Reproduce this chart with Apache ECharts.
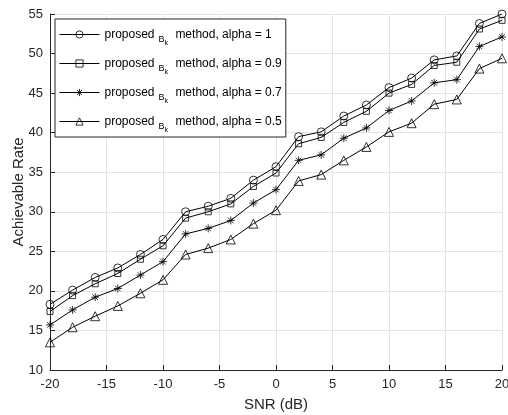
<!DOCTYPE html>
<html><head><meta charset="utf-8">
<script src="https://cdn.jsdelivr.net/npm/echarts@6/dist/echarts.min.js"></script>
<style>html,body{margin:0;padding:0;background:#fff}#c{width:508px;height:415px}</style>
</head><body><div id="c"></div>
<script>
var snr = [-20,-18,-16,-14,-12,-10,-8,-6,-4,-2,0,2,4,6,8,10,12,14,16,18,20];
var alpha1  = [18.3,20.1,21.7,22.9,24.6,26.5,30.0,30.7,31.7,34.0,35.7,39.5,40.1,42.1,43.5,45.7,46.9,49.2,49.7,53.8,55.0];
var alpha09 = [17.4,19.4,20.9,22.2,24.0,25.7,29.2,30.0,31.0,33.2,34.9,38.6,39.4,41.3,42.7,45.0,46.1,48.5,48.9,53.1,54.2];
var alpha07 = [15.7,17.6,19.2,20.3,22.0,23.7,27.2,27.9,28.9,31.1,32.8,36.5,37.2,39.3,40.6,42.8,44.0,46.3,46.7,50.9,52.1];
var alpha05 = [13.5,15.4,16.8,18.1,19.7,21.4,24.6,25.4,26.5,28.5,30.2,33.9,34.7,36.5,38.2,40.1,41.2,43.6,44.2,48.1,49.4];
var alphaLabels = ['1','0.9','0.7','0.5'];
var xTicks = {min:-20, max:20, step:5};
var yTicks = {min:10, max:55, step:5};

var FONT = '"Liberation Sans", Arial, sans-serif';
var TXT = '#262626';
var star = 'path://M5 0 L5 10 M0 5 L10 5 M1.5 1.5 L8.5 8.5 M8.5 1.5 L1.5 8.5';

function pairs(v){ return snr.map(function(x,i){ return [x, v[i]]; }); }
function mk(name, data, symbol, size){
  return {
    name: name, type: 'line', data: pairs(data), symbol: symbol, symbolSize: size,
    showAllSymbol: true,
    lineStyle: {color:'#000', width:1},
    itemStyle: {color:'rgba(0,0,0,0)', borderColor:'#000', borderWidth:0.8},
    emphasis: {disabled:true}, animation:false, z: 5
  };
}
var names = alphaLabels.map(function(a){ return 'a' + a; });
var series = [
  mk(names[0], alpha1, 'circle', 8),
  mk(names[1], alpha09, 'rect', 6),
  mk(names[2], alpha07, star, 8),
  mk(names[3], alpha05, 'triangle', 9)
];

var chart = echarts.init(document.getElementById('c'), null, {renderer:'canvas'});
chart.setOption({
  animation: false,
  backgroundColor: '#fff',
  grid: {left:50, right:6, top:14, bottom:45, containLabel:false, outerBoundsMode:'none'},
  xAxis: {
    type:'value', min:xTicks.min, max:xTicks.max, interval:xTicks.step,
    name:'SNR (dB)', nameLocation:'middle', nameGap:27, nameMoveOverlap:false,
    nameTextStyle:{fontFamily:FONT, fontSize:15, color:TXT},
    axisLine:{show:true, onZero:false, lineStyle:{color:TXT, width:1}},
    axisTick:{show:true, inside:true, length:5, lineStyle:{color:TXT}},
    axisLabel:{fontFamily:FONT, fontSize:13, color:TXT, margin:8},
    splitLine:{show:true, lineStyle:{color:'#e3e3e3', width:1}}
  },
  yAxis: {
    type:'value', min:yTicks.min, max:yTicks.max, interval:yTicks.step,
    name:'Achievable Rate', nameLocation:'middle', nameGap:24, nameMoveOverlap:false,
    nameTextStyle:{fontFamily:FONT, fontSize:15, color:TXT},
    axisLine:{show:true, onZero:false, lineStyle:{color:TXT, width:1}},
    axisTick:{show:true, inside:true, length:5, lineStyle:{color:TXT}},
    axisLabel:{fontFamily:FONT, fontSize:13, color:TXT, margin:7},
    splitLine:{show:true, lineStyle:{color:'#e3e3e3', width:1}}
  },
  legend: {
    orient:'vertical', left:55, top:19,
    padding:[3,4,3,4], itemGap:4, itemWidth:40, itemHeight:9,
    backgroundColor:'#fff', borderColor:'#262626', borderWidth:1,
    itemStyle:{borderWidth:0.8, borderColor:'#000', color:'rgba(0,0,0,0)'},
    lineStyle:{width:1, color:'#000'},
    data: names,
    formatter: function(n){
      var a = n.slice(1);
      return '{m|proposed}{b|B}{k|k}{m| method, alpha = ' + a + '}';
    },
    textStyle:{
      fontFamily:FONT, color:'#000',
      rich:{
        m:{fontFamily:FONT, fontSize:12, color:'#000', verticalAlign:'middle', lineHeight:14},
        b:{fontFamily:FONT, fontSize:9, color:'#000', verticalAlign:'middle', lineHeight:10, padding:[10,0,0,4]},
        k:{fontFamily:FONT, fontSize:7, color:'#000', verticalAlign:'middle', lineHeight:8, padding:[18,4,0,0]}
      }
    }
  },
  series: series
});
</script>
</body></html>
